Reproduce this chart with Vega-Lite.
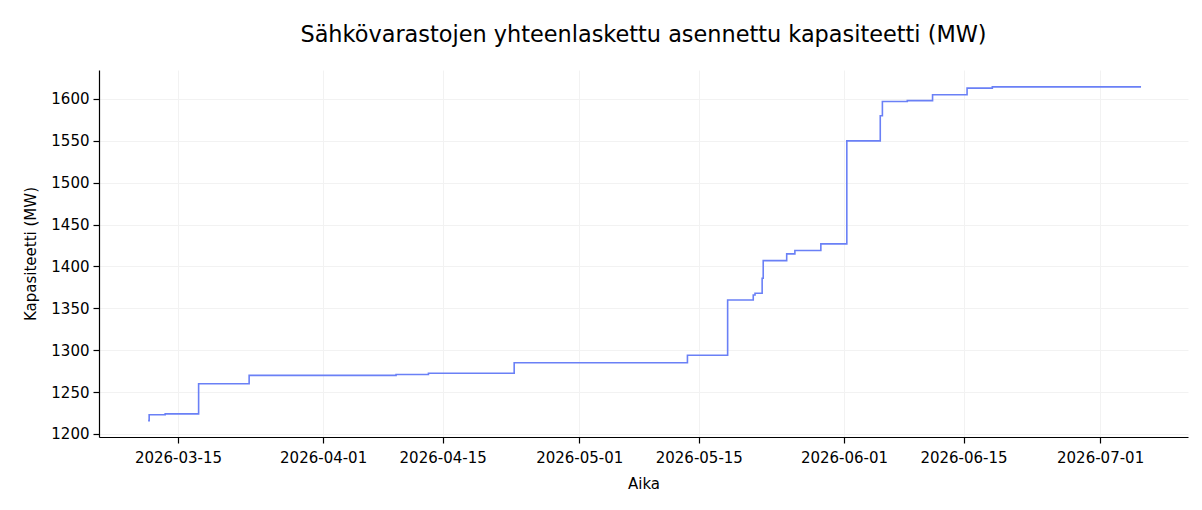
{
  "$schema": "https://vega.github.io/schema/vega-lite/v6.json",
  "width": 1089,
  "height": 367,
  "autosize": {"type": "none"},
  "padding": {"left": 99, "top": 70, "right": 14, "bottom": 73},
  "background": "white",
  "title": {
    "text": "Sähkövarastojen yhteenlaskettu asennettu kapasiteetti (MW)",
    "font": "DejaVu Sans",
    "fontSize": 22.4,
    "fontWeight": "normal",
    "color": "#000000",
    "anchor": "middle",
    "offset": 24
  },
  "config": {
    "view": {"stroke": null},
    "font": "DejaVu Sans"
  },
  "data": {
    "values": [
      {"t": "2026-03-11T12:00:00", "v": 1216},
      {"t": "2026-03-11T15:00:00", "v": 1223},
      {"t": "2026-03-13T12:00:00", "v": 1224},
      {"t": "2026-03-17T10:00:00", "v": 1260},
      {"t": "2026-03-23T08:00:00", "v": 1270},
      {"t": "2026-04-09T13:00:00", "v": 1271},
      {"t": "2026-04-13T08:00:00", "v": 1272.5},
      {"t": "2026-04-23T09:00:00", "v": 1285},
      {"t": "2026-05-13T16:00:00", "v": 1294},
      {"t": "2026-05-18T09:00:00", "v": 1360},
      {"t": "2026-05-21T09:00:00", "v": 1366},
      {"t": "2026-05-21T14:00:00", "v": 1368},
      {"t": "2026-05-22T10:00:00", "v": 1386},
      {"t": "2026-05-22T13:00:00", "v": 1407},
      {"t": "2026-05-25T07:00:00", "v": 1415},
      {"t": "2026-05-26T06:00:00", "v": 1419},
      {"t": "2026-05-29T07:00:00", "v": 1427},
      {"t": "2026-06-01T08:00:00", "v": 1550},
      {"t": "2026-06-05T06:00:00", "v": 1580},
      {"t": "2026-06-05T12:00:00", "v": 1597},
      {"t": "2026-06-08T10:00:00", "v": 1598},
      {"t": "2026-06-11T09:00:00", "v": 1605},
      {"t": "2026-06-15T10:00:00", "v": 1613},
      {"t": "2026-06-18T09:00:00", "v": 1614.5},
      {"t": "2026-07-05T19:00:00", "v": 1614.5}
    ]
  },
  "mark": {
    "type": "line",
    "interpolate": "step-after",
    "color": "#6a80f6",
    "strokeWidth": 1.6,
    "clip": true
  },
  "encoding": {
    "x": {
      "field": "t",
      "type": "temporal",
      "title": "Aika",
      "scale": {"domain": ["2026-03-05T18:00:00", "2026-07-11T07:00:00"], "nice": false},
      "axis": {
        "values": ["2026-03-15T00:00:00", "2026-04-01T00:00:00", "2026-04-15T00:00:00", "2026-05-01T00:00:00", "2026-05-15T00:00:00", "2026-06-01T00:00:00", "2026-06-15T00:00:00", "2026-07-01T00:00:00"],
        "format": "%Y-%m-%d",
        "labelFont": "DejaVu Sans",
        "labelFontSize": 15,
        "labelColor": "#000000",
        "labelPadding": 7,
        "titleFont": "DejaVu Sans",
        "titleFontSize": 15,
        "titleFontWeight": "normal",
        "titleColor": "#000000",
        "titlePadding": 11,
        "domainColor": "#000000",
        "domainWidth": 1.2,
        "tickColor": "#000000",
        "tickSize": 6,
        "tickWidth": 1.2,
        "grid": true,
        "gridColor": "#f2f2f2",
        "gridWidth": 1,
        "labelFlush": false,
        "labelOverlap": false
      }
    },
    "y": {
      "field": "v",
      "type": "quantitative",
      "title": "Kapasiteetti (MW)",
      "scale": {"domain": [1196.4, 1634.6], "nice": false, "zero": false},
      "axis": {
        "values": [1200, 1250, 1300, 1350, 1400, 1450, 1500, 1550, 1600],
        "format": "d",
        "labelFont": "DejaVu Sans",
        "labelFontSize": 15,
        "labelColor": "#000000",
        "labelPadding": 4,
        "titleFont": "DejaVu Sans",
        "titleFontSize": 15,
        "titleFontWeight": "normal",
        "titleColor": "#000000",
        "titlePadding": 12,
        "domainColor": "#000000",
        "domainWidth": 1.2,
        "tickColor": "#000000",
        "tickSize": 6,
        "tickWidth": 1.2,
        "grid": true,
        "gridColor": "#f2f2f2",
        "gridWidth": 1,
        "labelFlush": false,
        "labelOverlap": false
      }
    }
  }
}
